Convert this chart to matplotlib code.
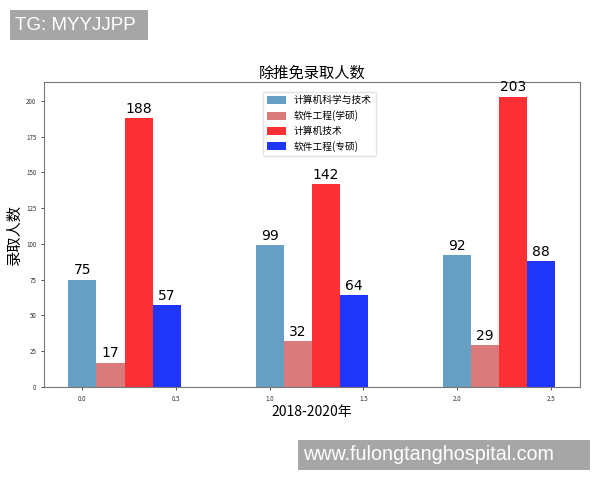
import numpy as np
from matplotlib import pyplot as plt
from matplotlib.patches import Rectangle

plt.rcParams['font.family'] = ['Noto Sans CJK SC', 'DejaVu Sans']

# data
positions = [0.0, 1.0, 2.0]
series_names = ['计算机科学与技术', '软件工程(学硕)', '计算机技术', '软件工程(专硕)']
cs_science = [75, 99, 92]
se_academic = [17, 32, 29]
cs_tech = [188, 142, 203]
se_pro = [57, 64, 88]
colors = ['#679ec4', '#d97b7b', '#fd3035', '#1f35f7']

width = 0.15
fig = plt.figure(figsize=(6.0, 4.8), dpi=100)
ax = fig.add_axes([0.0733, 0.194, 0.893, 0.635])

x = np.array(positions)
for i, (vals, name, c) in enumerate(zip([cs_science, se_academic, cs_tech, se_pro],
                                        series_names, colors)):
    bars = ax.bar(x + i * width, vals, width, color=c, label=name)
    for b, v in zip(bars, vals):
        ax.text(b.get_x() + b.get_width() / 2, v + 1.5, str(v),
                ha='center', va='bottom', fontsize=10, family='DejaVu Sans')

ax.set_xticks([0.0, 0.5, 1.0, 1.5, 2.0, 2.5])
ax.set_xticklabels(['0.0', '0.5', '1.0', '1.5', '2.0', '2.5'])
ax.set_yticks([0, 25, 50, 75, 100, 125, 150, 175, 200])
ax.tick_params(labelsize=4.5, colors='#333333', length=2, width=0.6)
for s in ax.spines.values():
    s.set_color('#777777')

ax.set_title('除推免录取人数', fontsize=11, pad=3)
ax.set_xlabel('2018-2020年', fontsize=10, labelpad=2)
ax.set_ylabel('录取人数', fontsize=11, labelpad=2)
ax.legend(loc='upper center', bbox_to_anchor=(0.514, 0.985), fontsize=7,
          handlelength=2.0, handleheight=0.9, frameon=True, edgecolor='#dddddd')

# overlays
fig.add_artist(Rectangle((10 / 600, 1 - 40 / 480), 138 / 600, 30 / 480,
                         transform=fig.transFigure, fc='#a6a6a6', ec='none'))
fig.text(15 / 600, 1 - 25 / 480, 'TG: MYYJJPP', fontsize=13.5, color='white',
         family='Liberation Sans', va='center', ha='left')
fig.add_artist(Rectangle((298 / 600, 1 - 470 / 480), 292 / 600, 30 / 480,
                         transform=fig.transFigure, fc='#a6a6a6', ec='none'))
fig.text(303 / 600, 1 - 455 / 480, 'www.fulongtanghospital.com', fontsize=14.2,
         color='white', family='Liberation Sans', va='center', ha='left')

fig.savefig('out.png')
